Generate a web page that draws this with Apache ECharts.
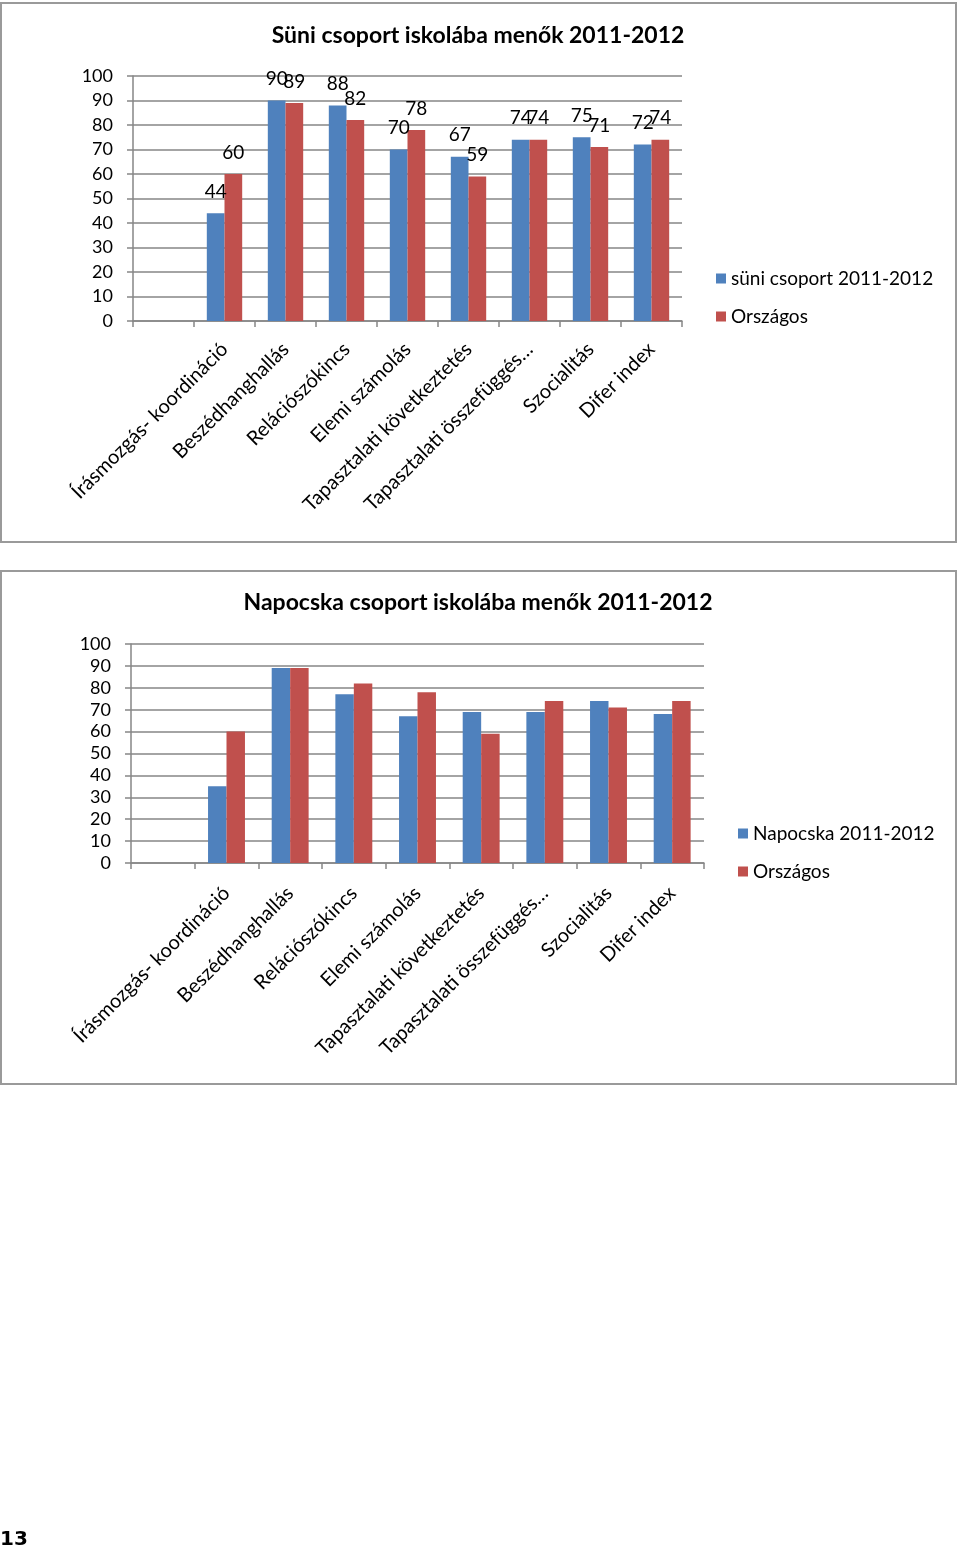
<!DOCTYPE html>
<html>
<head>
<meta charset="utf-8">
<script src="https://cdn.jsdelivr.net/npm/echarts@6/dist/echarts.min.js"></script>
<style>
html,body{margin:0;padding:0;background:#fff;}
#c{width:960px;height:1551px;}
</style>
</head>
<body>
<div id="c"></div>
<script>
var categories = ["", "Írásmozgás- koordináció", "Beszédhanghallás", "Relációszókincs", "Elemi számolás", "Tapasztalati következtetés", "Tapasztalati összefüggés…", "Szocialitás", "Difer index"];
var suniValues = [null, 44, 90, 88, 70, 67, 74, 75, 72];
var orszagos1Values = [null, 60, 89, 82, 78, 59, 74, 71, 74];
var napocskaValues = [null, 35, 89, 77, 67, 69, 69, 74, 68];
var orszagos2Values = [null, 60, 89, 82, 78, 59, 74, 71, 74];
var yTicks = [0, 10, 20, 30, 40, 50, 60, 70, 80, 90, 100];
var title1 = "Süni csoport iskolába menők 2011-2012";
var title2 = "Napocska csoport iskolába menők 2011-2012";
var series1Names = ["süni csoport 2011-2012", "Országos"];
var series2Names = ["Napocska 2011-2012", "Országos"];
var pageNumber = "13";

var FONT = "Lato, 'Open Sans', sans-serif";
var BLUE = "#4F81BD", RED = "#C0504D", GRID = "#868686";

function xAxis(gi, margin){
  return {
    type: 'category', gridIndex: gi, data: categories, boundaryGap: true,
    axisLine: {lineStyle: {color: GRID, width: 1.5}},
    axisTick: {show: true, interval: 0, length: 6, lineStyle: {color: GRID, width: 1.5}},
    axisLabel: {interval: 0, rotate: 45, margin: margin, color: '#000', fontSize: 20, fontFamily: FONT}
  };
}
function yAxis(gi){
  return {
    type: 'value', gridIndex: gi, min: yTicks[0], max: yTicks[yTicks.length-1], interval: yTicks[1]-yTicks[0],
    axisLine: {show: true, lineStyle: {color: GRID, width: 1.5}},
    axisTick: {show: true, length: 6, lineStyle: {color: GRID, width: 1.5}},
    splitLine: {show: true, lineStyle: {color: GRID, width: 1.5}},
    axisLabel: {margin: 20, color: '#000', fontSize: 18, fontFamily: FONT}
  };
}
function bar(name, data, color, gi, labels){
  return {
    type: 'bar', name: name, data: data, xAxisIndex: gi, yAxisIndex: gi,
    itemStyle: {color: color}, barGap: '0%', barCategoryGap: '42%',
    label: {show: labels, position: 'top', distance: 12, color: '#000', fontSize: 19, fontFamily: FONT},
    animation: false
  };
}

var chart = echarts.init(document.getElementById('c'), null, {renderer: 'canvas'});
chart.setOption({
  animation: false,
  textStyle: {fontFamily: FONT},
  title: [
    {text: title1, left: 478, textAlign: 'center', top: 24, padding: 0, textStyle: {fontSize: 23, fontWeight: 'bold', color: '#000', fontFamily: FONT}},
    {text: title2, left: 478, textAlign: 'center', top: 591, padding: 0, textStyle: {fontSize: 23, fontWeight: 'bold', color: '#000', fontFamily: FONT}}
  ],
  legend: [
    {data: series1Names, orient: 'vertical', left: 716, top: 269, padding: 0, icon: 'rect', itemWidth: 10, itemHeight: 10, itemGap: 19,
     textStyle: {fontSize: 19, color: '#000', fontFamily: FONT}, selectedMode: false},
    {data: series2Names, orient: 'vertical', left: 738, top: 824, padding: 0, icon: 'rect', itemWidth: 10, itemHeight: 10, itemGap: 19,
     textStyle: {fontSize: 19, color: '#000', fontFamily: FONT}, selectedMode: false}
  ],
  grid: [
    {left: 133, top: 76, width: 549, height: 245, containLabel: false},
    {left: 131, top: 644, width: 573, height: 219, containLabel: false}
  ],
  xAxis: [xAxis(0, 25), xAxis(1, 27)],
  yAxis: [yAxis(0), yAxis(1)],
  series: [
    bar(series1Names[0], suniValues, BLUE, 0, true),
    bar(series1Names[1], orszagos1Values, RED, 0, true),
    bar(series2Names[0], napocskaValues, BLUE, 1, false),
    bar(series2Names[1], orszagos2Values, RED, 1, false)
  ],
  graphic: [
    {type: 'rect', shape: {x: 1, y: 3, width: 955, height: 539}, style: {fill: 'none', stroke: '#9a9a9a', lineWidth: 2}, silent: true},
    {type: 'rect', shape: {x: 1, y: 571, width: 955, height: 513}, style: {fill: 'none', stroke: '#9a9a9a', lineWidth: 2}, silent: true},
    {type: 'text', left: 0, top: 1530, style: {text: pageNumber, font: "bold 20px 'DejaVu Sans', sans-serif", fill: '#000'}}
  ]
});
</script>
</body>
</html>
